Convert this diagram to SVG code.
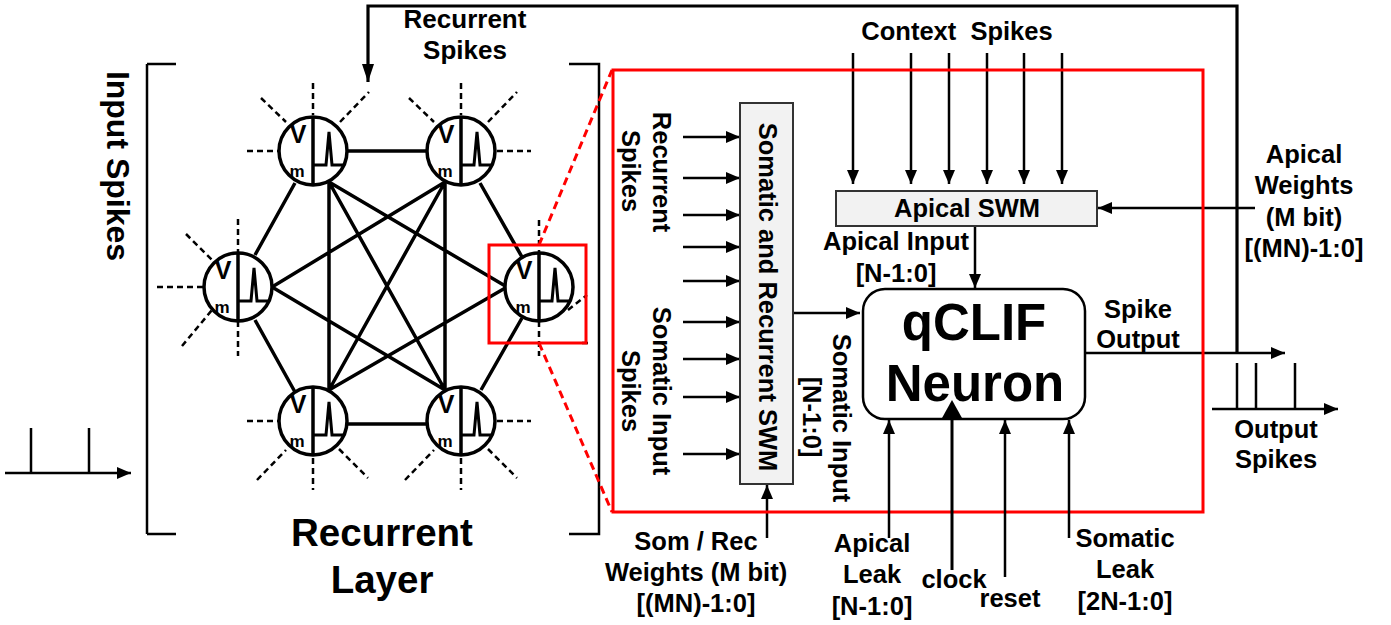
<svg xmlns="http://www.w3.org/2000/svg" width="1391" height="625" viewBox="0 0 1391 625">
<style>
text{font-family:"Liberation Sans",Arial,sans-serif;font-weight:700;fill:#000;text-anchor:middle}
.t{font-size:25.500px;white-space:pre}
.c{fill:#fff;stroke:#000;stroke-width:3.5}
.s{fill:none;stroke:#000;stroke-width:3.5}
.p{fill:none;stroke:#000;stroke-width:3}
.d{fill:none;stroke:#000;stroke-width:2.5;stroke-dasharray:6 4}
.l{fill:none;stroke:#000;stroke-width:2.5}
.a{fill:none;stroke:#000;stroke-width:2.5;marker-end:url(#ah)}
.box{fill:#f2f2f2;stroke:#333;stroke-width:2}
.v{font-size:25px}
.m{font-size:17px}
</style>
<defs>
<marker id="ah" markerUnits="userSpaceOnUse" markerWidth="16" markerHeight="14" refX="14" refY="6" orient="auto"><path d="M0,0L14,6L0,12z" fill="#000"/></marker>
<marker id="ah2" markerUnits="userSpaceOnUse" markerWidth="20" markerHeight="14" refX="18" refY="6" orient="auto"><path d="M0,0L18,6L0,12z" fill="#000"/></marker>
</defs>
<g id="connectors">
<path class="s" d="M347,151H427M347,424H427M295,183L255,255M480,183L522,257M255,320L295,392M522,318L481,390M329,182V390M445,182V390M329,182L445,390M329,182L507,287M445,182L272,287M445,182L329,390M272,287L445,390M507,287L329,390"/>
<path class="d" d="M313,83V115M340,122L369,92M261,98L286,122M247,151H278M461,83V115M409,98L434,122M488,122L517,92M497,151H531M238,219V253M186,234L212,260M157,287H203M182,346L212,310M238,321V356M539,220V253M568,310L587,295M539,321V356M582,343H592M247,421H278M257,480L286,450M313,458V490M339,449L368,478M497,421H531M405,480L434,450M461,458V490M488,449L517,478"/>
<path class="l" d="M147,64V534M147,64H176M147,534H176M569,64H599V534H569"/>
<path d="M1237,353V6H368V82" fill="none" stroke="#000" stroke-width="3.200" marker-end="url(#ah2)"/>
<path class="a" d="M683,137H740"/><path class="a" d="M683,178H740"/><path class="a" d="M683,215H740"/><path class="a" d="M683,247H740"/><path class="a" d="M683,281H740"/><path class="a" d="M683,322H740"/><path class="a" d="M683,359H740"/><path class="a" d="M683,397H740"/><path class="a" d="M683,454H740"/>
<path class="a" d="M853,53V184"/><path class="a" d="M911,53V184"/><path class="a" d="M949,53V184"/><path class="a" d="M987,53V184"/><path class="a" d="M1024,53V184"/><path class="a" d="M1062,53V184"/>
<path class="a" d="M1255,208H1098"/><path class="a" d="M975,226V288"/><path class="a" d="M793,313H860"/><path class="a" d="M767,538V485"/>
<path class="a" d="M1085,353H1285"/>
<path class="a" d="M1212,409H1338"/><path class="l" d="M1237,363V409M1256,363V409M1295,363V409"/>
<path class="a" d="M5,473H131"/><path class="l" d="M31,428V473M89,428V473"/>
</g>
<g id="node-tl" transform="translate(313,151)"><circle class="c" r="34"/><path class="s" d="M0,-34V34"/><path class="p" d="M0,14H13L16,-19L19,14H31"/><text class="v" x="-15" y="-8">V</text><text class="m" x="-16" y="26">m</text></g>
<g id="node-tr" transform="translate(461,151)"><circle class="c" r="34"/><path class="s" d="M0,-34V34"/><path class="p" d="M0,14H13L16,-19L19,14H31"/><text class="v" x="-15" y="-8">V</text><text class="m" x="-16" y="26">m</text></g>
<g id="node-l" transform="translate(238,287)"><circle class="c" r="34"/><path class="s" d="M0,-34V34"/><path class="p" d="M0,14H13L16,-19L19,14H31"/><text class="v" x="-15" y="-8">V</text><text class="m" x="-16" y="26">m</text></g>
<g id="node-r" transform="translate(539,287)"><circle class="c" r="34"/><path class="s" d="M0,-34V34"/><path class="p" d="M0,14H13L16,-19L19,14H31"/><text class="v" x="-15" y="-8">V</text><text class="m" x="-16" y="26">m</text></g>
<g id="node-bl" transform="translate(313,421)"><circle class="c" r="34"/><path class="s" d="M0,-34V34"/><path class="p" d="M0,14H13L16,-19L19,14H31"/><text class="v" x="-15" y="-8">V</text><text class="m" x="-16" y="26">m</text></g>
<g id="node-br" transform="translate(461,421)"><circle class="c" r="34"/><path class="s" d="M0,-34V34"/><path class="p" d="M0,14H13L16,-19L19,14H31"/><text class="v" x="-15" y="-8">V</text><text class="m" x="-16" y="26">m</text></g>
<g id="zoom-marks" fill="none" stroke="#f00">
<rect x="489" y="245" width="97" height="98" stroke-width="3"/>
<path d="M539,245L612,70M539,343L612,512" stroke-width="3" stroke-dasharray="8 5"/>
<rect x="613" y="70" width="590" height="442" stroke-width="3"/>
</g>
<g id="swm-som"><rect class="box" x="740" y="103" width="53" height="381"/><text class="t" transform="translate(759,297) rotate(90)">Somatic and Recurrent SWM</text></g>
<g id="swm-api"><rect class="box" x="836" y="191" width="261" height="35"/><text class="t" x="967" y="217">Apical SWM</text></g>
<g id="qclif"><rect x="863" y="289" width="222" height="130" rx="22" fill="#fff" stroke="#000" stroke-width="2.500"/><text x="974" y="340" style="font-size:51px">qCLIF</text><text x="975" y="401" style="font-size:51px">Neuron</text></g>
<g id="qclif-inputs">
<path class="a" d="M889,538V420"/><path class="a" d="M1005,577V420"/><path class="a" d="M1069,538V420"/>
<path class="p" d="M952,570V415"/><path d="M942,418L952,400L962,418z" fill="#000"/>
</g>
<g id="labels">
<text x="465" y="28" style="font-size:26px">Recurrent</text><text x="465" y="59" style="font-size:26px">Spikes</text>
<text transform="translate(107,166) rotate(90)" style="font-size:32px">Input Spikes</text>
<text x="382" y="546" style="font-size:38.500px">Recurrent</text><text x="382" y="593" style="font-size:38.500px">Layer</text>
<text class="t" x="957" y="40">Context  Spikes</text>
<text class="t" transform="translate(653,172) rotate(90)">Recurrent</text><text class="t" transform="translate(622,171) rotate(90)">Spikes</text>
<text class="t" transform="translate(653,391) rotate(90)">Somatic Input</text><text class="t" transform="translate(622,391) rotate(90)">Spikes</text>
<text class="t" transform="translate(833,418) rotate(90)">Somatic Input</text><text class="t" transform="translate(803,417) rotate(90)">[N-1:0]</text>
<text class="t" x="896" y="250">Apical Input</text><text class="t" x="896" y="282">[N-1:0]</text>
<text class="t" x="1138" y="318">Spike</text><text class="t" x="1138" y="348">Output</text>
<text class="t" x="1276" y="438">Output</text><text class="t" x="1276" y="468">Spikes</text>
<text class="t" x="1304" y="163">Apical</text><text class="t" x="1304" y="194">Weights</text><text class="t" x="1304" y="226">(M bit)</text><text class="t" x="1304" y="257">[(MN)-1:0]</text>
<text class="t" x="696" y="550">Som / Rec</text><text class="t" x="696" y="581">Weights (M bit)</text><text class="t" x="696" y="612">[(MN)-1:0]</text>
<text class="t" x="872" y="552">Apical</text><text class="t" x="872" y="583">Leak</text><text class="t" x="872" y="615">[N-1:0]</text>
<text class="t" x="954" y="588">clock</text><text class="t" x="1010" y="607">reset</text>
<text class="t" x="1125" y="547">Somatic</text><text class="t" x="1125" y="578">Leak</text><text class="t" x="1125" y="610">[2N-1:0]</text>
</g>
</svg>
